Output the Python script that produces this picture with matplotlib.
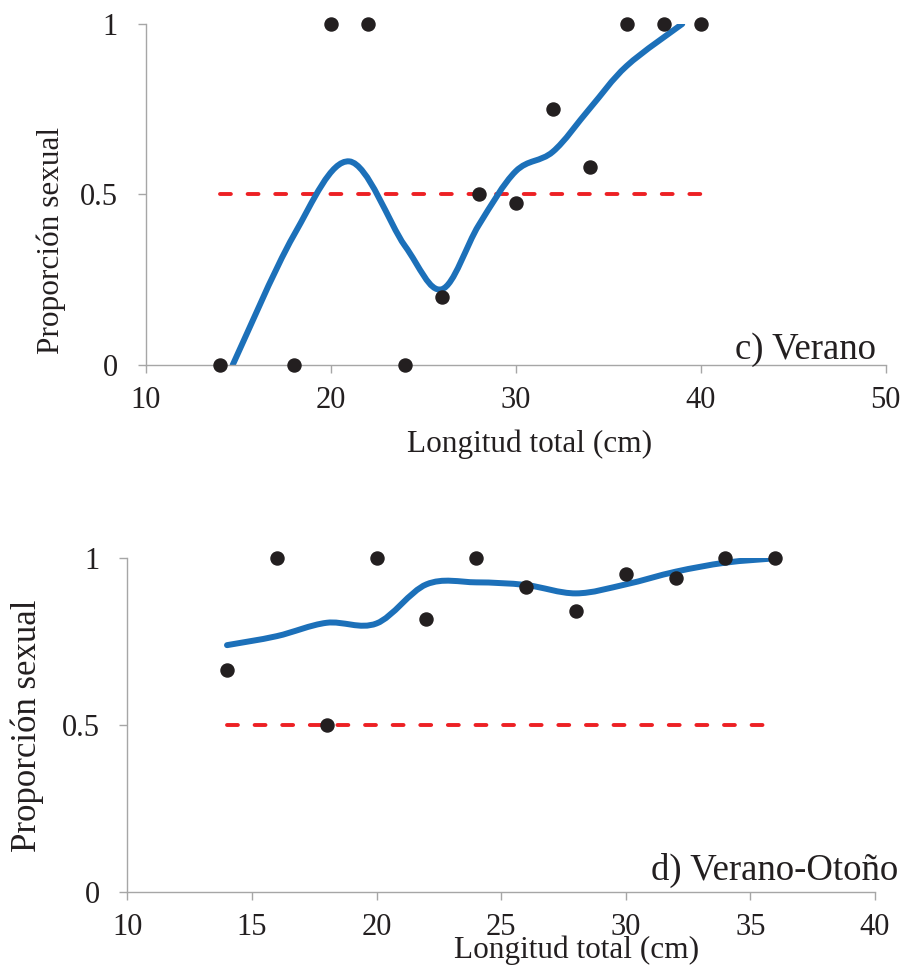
import numpy as np
import matplotlib
matplotlib.use("Agg")
import matplotlib.pyplot as plt
from matplotlib.path import Path
from matplotlib.patches import PathPatch

plt.rcParams['font.family'] = ['Liberation Serif', 'DejaVu Serif']

# c) Verano - observed proportions
len_c = [14, 18, 20, 22, 24, 26, 28, 30, 32, 34, 36, 38, 40]
prop_c = [0, 0, 1, 1, 0, 0.2, 0.5, 0.475, 0.75, 0.58, 1, 1, 1]
# fitted curve (smoothed line through these nodes)
fit_x_c = [14.7, 18, 21, 24, 26, 28, 30, 32, 34, 36, 39]
fit_y_c = [0.0, 0.38, 0.597, 0.35, 0.222, 0.41, 0.568, 0.625, 0.752, 0.877, 1.0]
ref_x_c = [14, 40]

# d) Verano-Otoño
len_d = [14, 16, 18, 20, 22, 24, 26, 28, 30, 32, 34, 36]
prop_d = [0.667, 1, 0.5, 1, 0.818, 1, 0.913, 0.842, 0.952, 0.942, 1, 1]
fit_x_d = [14, 16, 18, 20, 22, 24, 26, 28, 30, 32, 34, 36]
fit_y_d = [0.74, 0.767, 0.807, 0.805, 0.922, 0.928, 0.92, 0.895, 0.922, 0.96, 0.987, 1.0]
ref_x_d = [14, 36]

ref_level = 0.5

BLUE = '#1C70B9'
RED = '#ED2024'
DOT = '#231F20'
GRAY = '#A6A6A6'


def smooth_patch(xs, ys):
    # Catmull-Rom style bezier, like a spreadsheet "smoothed line"
    pts = np.column_stack([xs, ys]).astype(float)
    n = len(pts)
    verts = [pts[0]]
    codes = [Path.MOVETO]
    for i in range(n - 1):
        p0 = pts[i - 1] if i > 0 else pts[i]
        p1 = pts[i]
        p2 = pts[i + 1]
        p3 = pts[i + 2] if i + 2 < n else pts[i + 1]
        verts += [p1 + (p2 - p0) / 6, p2 - (p3 - p1) / 6, p2]
        codes += [Path.CURVE4] * 3
    return PathPatch(Path(verts, codes), fill=False, edgecolor=BLUE, lw=4.3,
                     capstyle='round', joinstyle='round', zorder=2)


def style_axes(ax, xticks):
    for s in ['top', 'right']:
        ax.spines[s].set_visible(False)
    for s in ['left', 'bottom']:
        ax.spines[s].set_color(GRAY)
        ax.spines[s].set_linewidth(1.0)
    ax.set_ylim(0, 1)
    ax.set_xlim(xticks[0], xticks[-1])
    ax.set_xticks(xticks)
    ax.set_yticks([0, 0.5, 1])
    ax.set_yticklabels(['0', '0.5', '1'])
    ax.tick_params(axis='both', direction='out', length=6, width=1.0,
                   color=GRAY, labelsize=22, labelcolor=DOT)
    ax.tick_params(axis='x', pad=9)
    ax.tick_params(axis='y', pad=14)


fig = plt.figure(figsize=(9.08, 9.73), dpi=100)

ax1 = fig.add_axes([0.1605, 0.6249, 0.8150, 0.3505])
ax2 = fig.add_axes([0.1402, 0.0829, 0.8235, 0.3433])

panels = [
    (ax1, len_c, prop_c, fit_x_c, fit_y_c, ref_x_c, [10, 20, 30, 40, 50], 'c) Verano'),
    (ax2, len_d, prop_d, fit_x_d, fit_y_d, ref_x_d, [10, 15, 20, 25, 30, 35, 40], 'd) Verano-Otoño'),
]

for ax, lx, py, fx, fy, rx, xt, name in panels:
    style_axes(ax, xt)
    ax.plot(rx, [ref_level, ref_level], color=RED, lw=2.8,
            linestyle=(0, (2.8, 4.3)), dash_capstyle='round', zorder=1)
    ax.add_patch(smooth_patch(fx, fy))
    ax.plot(lx, py, 'o', color=DOT, markersize=9.4, zorder=3, clip_on=False)

ax1.set_xlabel('Longitud total (cm)', fontsize=22.5, color=DOT)
ax1.xaxis.set_label_coords(0.5186, -0.19)
ax1.set_ylabel('Proporción sexual', fontsize=22.5, color=DOT, va='center')
ax1.yaxis.set_label_coords(-0.128, 0.3666)
ax1.text(0.9869, 0.0176, 'c) Verano', transform=ax1.transAxes,
         ha='right', va='baseline', fontsize=26.5, color=DOT)

ax2.set_xlabel('Longitud total (cm)', fontsize=22.5, color=DOT)
ax2.xaxis.set_label_coords(0.601, -0.128)
ax2.set_ylabel('Proporción sexual', fontsize=25, color=DOT, va='center')
ax2.yaxis.set_label_coords(-0.1335, 0.4994)
ax2.text(1.0308, 0.0368, 'd) Verano-Otoño', transform=ax2.transAxes,
         ha='right', va='baseline', fontsize=26.5, color=DOT)

fig.savefig('out.png', dpi=100)
